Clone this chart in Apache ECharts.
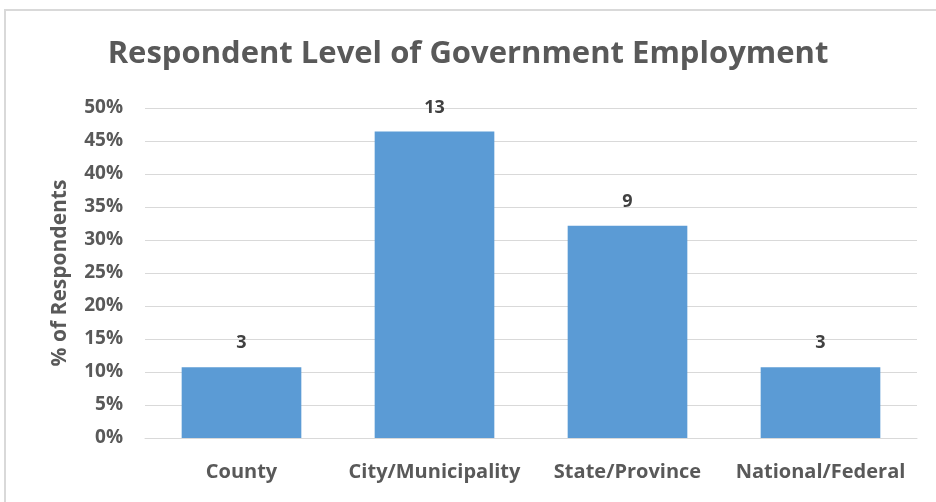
<!DOCTYPE html>
<html><head><meta charset="utf-8">
<script src="https://cdn.jsdelivr.net/npm/echarts@6/dist/echarts.min.js"></script>
<style>html,body{margin:0;padding:0;background:#fff}#c{width:936px;height:502px}</style>
</head><body><div id="c"></div>
<script>
const categories = ["County", "City/Municipality", "State/Province", "National/Federal"];
const counts = [3, 13, 9, 3];
const total = 28;
const yTicks = [0, 0.05, 0.10, 0.15, 0.20, 0.25, 0.30, 0.35, 0.40, 0.45, 0.50];

const pct = counts.map(c => c / total);
const chart = echarts.init(document.getElementById('c'), null, {renderer: 'canvas'});
const font = '"Open Sans", "DejaVu Sans", sans-serif';
chart.setOption({
  animation: false,
  graphic: [{type: 'rect', shape: {x: 5, y: 10, width: 940, height: 500},
    style: {fill: 'none', stroke: '#d9d9d9', lineWidth: 2}, silent: true}],
  title: {text: 'Respondent Level of Government Employment', left: 'center', top: 34,
    textStyle: {fontFamily: font, fontWeight: 'bold', fontSize: 31, color: '#595959'}},
  grid: {left: 145, right: 19, top: 108, bottom: 64, containLabel: false},
  xAxis: {type: 'category', data: categories,
    axisLine: {lineStyle: {color: '#d9d9d9', width: 1}}, axisTick: {show: false},
    axisLabel: {interval: 0, fontFamily: font, fontWeight: 'bold', fontSize: 20, color: '#595959', margin: 24}},
  yAxis: {type: 'value', min: 0, max: 0.5, interval: 0.05,
    name: '% of Respondents', nameLocation: 'middle', nameGap: 74, nameRotate: 90,
    nameTextStyle: {fontFamily: font, fontWeight: 'bold', fontSize: 21, color: '#595959'},
    axisLine: {show: false}, axisTick: {show: false},
    splitLine: {lineStyle: {color: '#d9d9d9', width: 1}},
    axisLabel: {fontFamily: font, fontWeight: 'bold', fontSize: 19, color: '#595959', margin: 22,
      formatter: v => Math.round(v * 100) + '%'}},
  series: [{type: 'bar', data: pct, barWidth: '62%',
    itemStyle: {color: '#5b9bd5'},
    label: {show: true, position: 'top', distance: 15, fontFamily: font, fontWeight: 'bold',
      fontSize: 18, color: '#404040', formatter: p => counts[p.dataIndex]}}]
});
</script></body></html>
